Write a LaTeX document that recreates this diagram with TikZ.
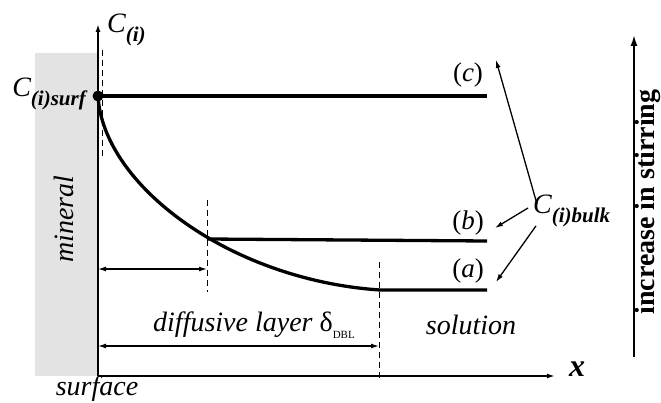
\documentclass[tikz,border=0pt]{standalone}
\usepackage{fontspec}
\setmainfont{Liberation Serif}
\usetikzlibrary{arrows.meta,positioning}

\newcommand{\csub}[1]{\raisebox{-0.3em}{\fontsize{21}{22}\selectfont\bfseries\itshape #1}}

\begin{document}
\begin{tikzpicture}[
  x=1pt, y=-1pt,
  >={Latex[length=8pt,width=5pt]},
  axis/.style={line width=1.8pt},
  profile/.style={line width=3.3pt},
  guide/.style={line width=0.9pt, dash pattern=on 6pt off 4pt},
  dim/.style={<->, line width=1.3pt},
  pointer/.style={->, line width=1.3pt},
  lab/.style={font=\fontsize{28}{30}\selectfont\itshape, inner sep=1pt},
  case/.style={font=\fontsize{27}{30}\selectfont\upshape, inner sep=1pt}
]
\useasboundingbox (0,0) rectangle (661,403);
\fill[black!11] (35,53) rectangle (98,376);

% axes
\coordinate (O) at (98,376);
\coordinate (ytop) at (98,24);
\coordinate (xend) at (555,376);
\draw[axis,->] (O) -- (ytop);
\draw[axis,->] (O) -- (xend);

% concentration profiles
\coordinate (surf) at (98,96);
\coordinate (cend) at (487,96);
\coordinate (bstart) at (207,239);
\coordinate (bend) at (487,241);
\coordinate (astart) at (380,290);
\coordinate (aend) at (487,290);
\draw[profile] (surf) -- (cend);
\draw[profile] (bstart) -- (bend);
\draw[profile] (surf) .. controls (103,185) and (230,280) .. (astart) -- (aend);
\fill (surf) circle (5.5);

% dashed guides
\draw[guide] (102,50) -- (102,158);
\draw[guide] (207,200) -- (207,292);
\draw[guide] (379,262) -- (379,380);

% layer widths
\coordinate (d1l) at (98,269);
\coordinate (d1r) at (207,269);
\coordinate (d2l) at (98,346);
\coordinate (d2r) at (379,346);
\draw[dim] (d1l) -- (d1r);
\draw[dim] (d2l) -- (d2r);

% labels
\node[lab, anchor=west] (ci) at (106,30) {C\csub{(i)}};
\node[lab, anchor=east] (cisurf) at (87,94) {C\csub{(i)surf}};
\node[lab, rotate=90] (mineral) at (64,219) {mineral};
\node[lab] (surface) at (97,389) {surface};
\node[lab] (layer) at (254,325) {diffusive layer \upshape δ\raisebox{-0.25em}{\fontsize{11}{12}\selectfont DBL}};
\node[lab] (solution) at (471,325) {solution};
\node[lab, font=\fontsize{32}{34}\selectfont\bfseries\itshape] (xlab) at (577,369) {x};
\node[case] (lc) at (468,75) {(\textit{c})};
\node[case] (lb) at (468,223) {(\textit{b})};
\node[case] (la) at (468,271) {(\textit{a})};
\node[lab, anchor=west] (bulk) at (532,211) {C\csub{(i)bulk}};

% pointers to the bulk levels
\coordinate (tipc) at (496,60);
\coordinate (tipb) at (495,228);
\coordinate (tipa) at (496,282);
\draw[pointer] ([xshift=5pt,yshift=-10pt]bulk.north west) -- (tipc);
\draw[pointer] ([xshift=-4pt,yshift=3pt]bulk.west) -- (tipb);
\draw[pointer] ([xshift=4pt,yshift=2pt]bulk.south west) -- (tipa);

% stirring
\coordinate (sbot) at (634,357);
\coordinate (stop) at (634,35);
\draw[axis, -{Latex[length=11pt,width=7pt]}] (sbot) -- (stop);
\node[rotate=90, anchor=base, font=\fontsize{28}{30}\selectfont\bfseries] (stirring) at (654,202) {increase in stirring};
\end{tikzpicture}
\end{document}
